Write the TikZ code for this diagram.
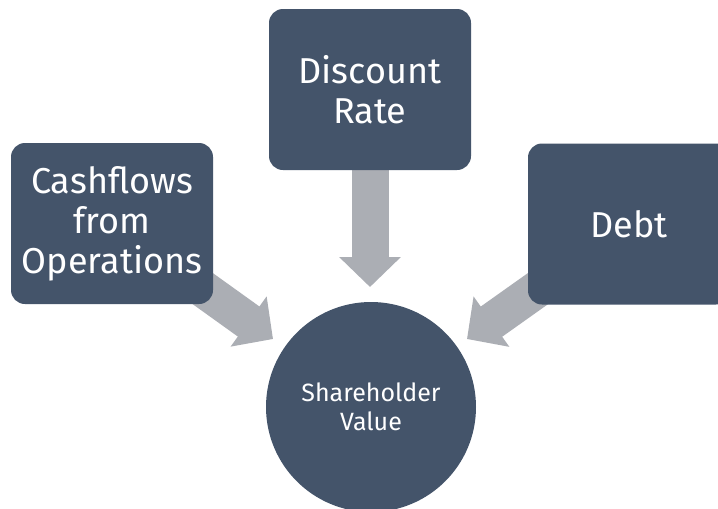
\documentclass[tikz,border=0pt]{standalone}
\usepackage{fontspec}
\setmainfont{Fira Sans}
\usetikzlibrary{arrows.meta}
\definecolor{slate}{HTML}{44546A}
\definecolor{arrowgray}{HTML}{ABAEB4}
\pgfdeclarelayer{bg}
\pgfdeclarelayer{arr}
\pgfsetlayers{bg,arr,main}
\begin{document}
\begin{tikzpicture}[x=1pt,y=-1pt,
  box/.style={fill=slate, rounded corners=14pt, minimum width=202pt, minimum height=161pt,
    text=white, align=center, font=\fontsize{36}{40}\selectfont, inner sep=0pt},
  hub/.style={circle, fill=slate, minimum size=210pt, text=white, align=center,
    font=\fontsize{25}{29}\selectfont, inner sep=0pt},
  feed/.style={draw=arrowgray, line width=37pt, -{Triangle[length=30pt,width=60pt]}}]
\useasboundingbox (0,0) rectangle (718,509);
\begin{pgfonlayer}{bg}
\fill[white] (0,0) rectangle (718,509);
\end{pgfonlayer}
\node[box] (dr) at (370,89.5) {Discount\\Rate};
\node[box] (cf) at (112,223.5) {Cashflows\\from\\Operations};
\node[box] (db) at (629,224) {Debt};
\node[hub] (sv) at (371,407) {Shareholder\\Value};
\coordinate (tD) at (370,287);
\coordinate (tL) at (273,339);
\coordinate (tR) at (467,339);
\begin{pgfonlayer}{arr}
\draw[feed] (dr.center) -- (tD);
\draw[feed] (cf.center) -- (tL);
\draw[feed] (db.center) -- (tR);
\end{pgfonlayer}
\end{tikzpicture}
\end{document}
